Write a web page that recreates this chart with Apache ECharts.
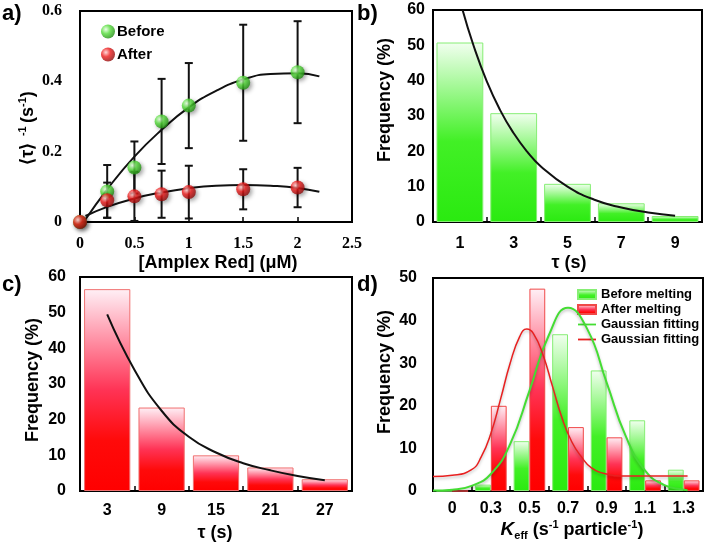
<!DOCTYPE html>
<html>
<head>
<meta charset="utf-8">
<script src="https://cdn.jsdelivr.net/npm/echarts@6/dist/echarts.min.js"></script>
<style>html,body{margin:0;padding:0;background:#fff;}#c{width:709px;height:547px;}</style>
</head>
<body>
<div id="c"></div>
<script>
// ---------- Panel a ----------
const aX = [0, 0.25, 0.5, 0.75, 1, 1.5, 2];
const beforeY = [0, 0.087, 0.155, 0.286, 0.331, 0.396, 0.426];
const beforeErr = [0, 0.075, 0.074, 0.121, 0.121, 0.165, 0.145];
const afterY = [0, 0.062, 0.073, 0.079, 0.085, 0.093, 0.098];
const afterErr = [0, 0.05, 0.07, 0.067, 0.075, 0.057, 0.056];
const fitX = [0.05, 0.25, 0.5, 0.75, 1, 1.25, 1.5, 1.75, 2, 2.2];
const beforeFitY = [0.007, 0.093, 0.186, 0.262, 0.326, 0.373, 0.405, 0.421, 0.423, 0.414];
const afterFitY = [0.017, 0.043, 0.067, 0.084, 0.096, 0.103, 0.105, 0.103, 0.097, 0.086];
// ---------- Panel b ----------
const bCats = ['1', '3', '5', '7', '9'];
const bVals = [50.8, 30.8, 10.8, 5.3, 1.7];
const bFitX = [1.1, 1.5, 2, 2.5, 3, 3.5, 4, 5, 6, 7, 8, 9];
const bFitY = [60, 50.1, 39.8, 31.6, 25.1, 19.9, 15.8, 10, 6.3, 4.1, 2.7, 1.8];
// ---------- Panel c ----------
const cCats = ['3', '9', '15', '21', '27'];
const cVals = [56.6, 23.4, 10, 6.6, 3.3];
const cFitX = [3, 6, 9, 12, 15, 18, 21, 24, 27];
const cFitY = [49.5, 34, 22.5, 15.2, 10.8, 7.8, 5.8, 4.2, 3];
// ---------- Panel d ----------
const dCats = ['0', '0.3', '0.5', '0.7', '0.9', '1.1', '1.3'];
const dBefore = [0, 1.5, 11.7, 36.8, 28.3, 16.6, 5];
const dAfter = [0, 20, 47.5, 15, 12.6, 2.5, 2.5];
// Gaussian fits, x given in bin positions (0 = first bin centre)
const gBeforeX = [-0.5, 0, 0.5, 1, 1.5, 2, 2.5, 3, 3.5, 4, 4.5, 5, 5.5, 6, 6.1];
const gBeforeY = [0.1, 0.3, 1.2, 4, 11, 23.5, 36.5, 43, 38, 25.5, 12.8, 4.8, 1.4, 0.3, 0.2];
const gAfterX = [-0.5, 0, 0.5, 0.75, 1, 1.25, 1.5, 1.75, 1.93, 2.1, 2.35, 2.6, 2.85, 3.1, 3.35, 3.6, 4, 4.5, 5, 6.1];
const gAfterY = [3.4, 3.7, 5, 8, 13.5, 21.5, 30, 36.3, 38, 37, 32, 24.5, 17, 11.5, 8, 5.5, 4, 3.5, 3.5, 3.5];

const SANS = 'Liberation Sans, Arial, sans-serif';
const SERIF = 'Liberation Serif, Times New Roman, serif';
const zip = (xs, ys) => xs.map((x, i) => [x, ys[i]]);

const greenGrad = {type: 'linear', x: 0, y: 0, x2: 0, y2: 1, colorStops: [
  {offset: 0, color: '#f2fff0'}, {offset: 0.55, color: '#42f026'}, {offset: 1, color: '#2aea10'}]};
const redGrad = {type: 'linear', x: 0, y: 0, x2: 0, y2: 1, colorStops: [
  {offset: 0, color: '#fff0f6'}, {offset: 0.5, color: '#ff3355'}, {offset: 0.75, color: '#ff0a0a'}, {offset: 1, color: '#ff0000'}]};
const greenBall = {type: 'radial', x: 0.35, y: 0.35, r: 0.7, colorStops: [
  {offset: 0, color: '#e6ffe0'}, {offset: 0.45, color: '#55dd3a'}, {offset: 1, color: '#1f8a10'}]};
const redBall = {type: 'radial', x: 0.35, y: 0.35, r: 0.7, colorStops: [
  {offset: 0, color: '#ffd0d0'}, {offset: 0.45, color: '#ee1a1a'}, {offset: 1, color: '#8a0a0a'}]};

function errData(ys, es) {
  const out = [];
  aX.forEach((x, i) => { if (es[i] > 0) out.push([x, ys[i] - es[i], ys[i] + es[i]]); });
  return out;
}
function errRender(params, api) {
  const x = api.value(0), lo = api.value(1), hi = api.value(2);
  const p1 = api.coord([x, hi]), p2 = api.coord([x, lo]);
  const w = 4, st = {stroke: '#111', lineWidth: 2};
  return {type: 'group', children: [
    {type: 'line', shape: {x1: p1[0], y1: p1[1], x2: p2[0], y2: p2[1]}, style: st},
    {type: 'line', shape: {x1: p1[0] - w, y1: p1[1], x2: p1[0] + w, y2: p1[1]}, style: st},
    {type: 'line', shape: {x1: p2[0] - w, y1: p2[1], x2: p2[0] + w, y2: p2[1]}, style: st}
  ]};
}

const gridStyle = {show: true, borderColor: '#000', borderWidth: 2, backgroundColor: 'transparent'};
const axLine = {show: true, onZero: false, lineStyle: {color: '#000', width: 2}};
const lblSans = (m) => ({color: '#000', fontFamily: SANS, fontWeight: 'bold', fontSize: 16, margin: m});
const inTick = {show: true, inside: true, length: 5, lineStyle: {color: '#000', width: 1.5}};
const hiddenX = (g, mn, mx) => ({gridIndex: g, type: 'value', min: mn, max: mx, show: false,
  axisLine: {show: false, onZero: false}, axisTick: {show: false}, axisLabel: {show: false}, splitLine: {show: false}});
const lineIcon = 'path://M0,0L20,0L20,2L0,2Z';

const option = {
  animation: false,
  backgroundColor: '#fff',
  grid: [
    Object.assign({left: 80, top: 11, width: 272, height: 211}, gridStyle),
    Object.assign({left: 433, top: 10, width: 269, height: 212}, gridStyle),
    Object.assign({left: 80, top: 277, width: 272, height: 214}, gridStyle),
    Object.assign({left: 433, top: 278, width: 270, height: 213}, gridStyle)
  ],
  xAxis: [
    {gridIndex: 0, type: 'value', min: 0, max: 2.5, interval: 0.5, axisLine: axLine, axisTick: inTick, splitLine: {show: false},
     axisLabel: {color: '#000', fontFamily: SERIF, fontWeight: 'bold', fontSize: 16, margin: 14}},
    {gridIndex: 1, type: 'category', data: bCats, axisLine: axLine, axisTick: inTick, axisLabel: lblSans(14)},
    hiddenX(1, 0, 10),
    {gridIndex: 2, type: 'category', data: cCats, axisLine: axLine, axisTick: inTick, axisLabel: lblSans(12)},
    hiddenX(2, 0, 30),
    {gridIndex: 3, type: 'category', data: dCats, axisLine: axLine, axisTick: inTick, axisLabel: lblSans(10)},
    hiddenX(3, -0.5, 6.5)
  ],
  yAxis: [
    {gridIndex: 0, type: 'value', min: 0, max: 0.6, interval: 0.2, axisLine: axLine, axisTick: {show: false}, splitLine: {show: false},
     axisLabel: {color: '#000', fontFamily: SERIF, fontWeight: 'bold', fontSize: 16, margin: 18}},
    {gridIndex: 1, type: 'value', min: 0, max: 60, interval: 10, axisLine: axLine, axisTick: {show: false}, splitLine: {show: false}, axisLabel: lblSans(8)},
    {gridIndex: 2, type: 'value', min: 0, max: 60, interval: 10, axisLine: axLine, axisTick: {show: false}, splitLine: {show: false}, axisLabel: lblSans(14)},
    {gridIndex: 3, type: 'value', min: 0, max: 50, interval: 10, axisLine: axLine, axisTick: {show: false}, splitLine: {show: false}, axisLabel: lblSans(16)}
  ],
  legend: [
    {data: ['Before', 'After'], orient: 'vertical', left: 96, top: 19, itemWidth: 14, itemHeight: 14, itemGap: 8, icon: 'circle',
     textStyle: {color: '#000', fontFamily: SANS, fontWeight: 'bold', fontSize: 15, padding: [0, 0, 0, -3]}},
    {data: [{name: 'Before melting', icon: 'rect'}, {name: 'After melting', icon: 'rect'},
            {name: 'Gaussian fitting', icon: lineIcon}, {name: 'Gaussian fitting ', icon: lineIcon}],
     orient: 'vertical', left: 572, top: 283, itemWidth: 18, itemHeight: 9, itemGap: 2,
     textStyle: {color: '#000', fontFamily: SANS, fontWeight: 'bold', fontSize: 13}}
  ],
  series: [
    // panel a
    {type: 'custom', xAxisIndex: 0, yAxisIndex: 0, renderItem: errRender, data: errData(beforeY, beforeErr), encode: {x: 0, y: [1, 2]}, z: 2},
    {type: 'custom', xAxisIndex: 0, yAxisIndex: 0, renderItem: errRender, data: errData(afterY, afterErr), encode: {x: 0, y: [1, 2]}, z: 2},
    {type: 'line', xAxisIndex: 0, yAxisIndex: 0, data: zip(fitX, beforeFitY), smooth: 0.5, symbol: 'none', lineStyle: {color: '#111', width: 2}, z: 3},
    {type: 'line', xAxisIndex: 0, yAxisIndex: 0, data: zip(fitX, afterFitY), smooth: 0.5, symbol: 'none', lineStyle: {color: '#111', width: 2}, z: 3},
    {name: 'Before', type: 'scatter', xAxisIndex: 0, yAxisIndex: 0, data: zip(aX, beforeY), symbolSize: 14,
     itemStyle: {color: greenBall, shadowBlur: 4, shadowColor: 'rgba(0,0,0,0.45)', shadowOffsetX: 2, shadowOffsetY: 2}, z: 5},
    {name: 'After', type: 'scatter', xAxisIndex: 0, yAxisIndex: 0, data: zip(aX, afterY), symbolSize: 14,
     itemStyle: {color: redBall, shadowBlur: 4, shadowColor: 'rgba(0,0,0,0.45)', shadowOffsetX: 2, shadowOffsetY: 2}, z: 5},
    // panel b
    {type: 'bar', xAxisIndex: 1, yAxisIndex: 1, data: bVals, barCategoryGap: '13%',
     itemStyle: {color: greenGrad, borderColor: '#86ee74', borderWidth: 1}},
    {type: 'line', xAxisIndex: 2, yAxisIndex: 1, data: zip(bFitX, bFitY), smooth: 0.5, symbol: 'none', lineStyle: {color: '#111', width: 2}, z: 4},
    // panel c
    {type: 'bar', xAxisIndex: 3, yAxisIndex: 2, data: cVals, barCategoryGap: '15%',
     itemStyle: {color: redGrad, borderColor: '#f07070', borderWidth: 1}},
    {type: 'line', xAxisIndex: 4, yAxisIndex: 2, data: zip(cFitX, cFitY), smooth: 0.5, symbol: 'none', lineStyle: {color: '#111', width: 2}, z: 4},
    // panel d
    {name: 'Before melting', type: 'bar', xAxisIndex: 5, yAxisIndex: 3, data: dBefore, barGap: '0%', barCategoryGap: '18%',
     itemStyle: {color: greenGrad, borderColor: '#86ee74', borderWidth: 1}},
    {name: 'After melting', type: 'bar', xAxisIndex: 5, yAxisIndex: 3, data: dAfter, barGap: '0%', barCategoryGap: '18%',
     itemStyle: {color: redGrad, borderColor: '#f04848', borderWidth: 1}},
    {name: 'Gaussian fitting', type: 'line', xAxisIndex: 6, yAxisIndex: 3, data: zip(gBeforeX, gBeforeY), smooth: 0.5, symbol: 'none',
     itemStyle: {color: '#44dd33'},
     lineStyle: {color: '#44dd33', width: 2, shadowBlur: 3, shadowColor: 'rgba(0,0,0,0.25)', shadowOffsetY: 2}, z: 4},
    {name: 'Gaussian fitting ', type: 'line', xAxisIndex: 6, yAxisIndex: 3, data: zip(gAfterX, gAfterY), smooth: 0.5, symbol: 'none',
     itemStyle: {color: '#e82020'},
     lineStyle: {color: '#e82020', width: 1.5, shadowBlur: 3, shadowColor: 'rgba(0,0,0,0.25)', shadowOffsetY: 2}, z: 4}
  ],
  graphic: [
    {type: 'text', x: 2, y: 14, style: {text: 'a)', font: 'bold 22px ' + SANS, fill: '#000', verticalAlign: 'middle'}},
    {type: 'text', x: 357, y: 14, style: {text: 'b)', font: 'bold 22px ' + SANS, fill: '#000', verticalAlign: 'middle'}},
    {type: 'text', x: 2, y: 285, style: {text: 'c)', font: 'bold 22px ' + SANS, fill: '#000', verticalAlign: 'middle'}},
    {type: 'text', x: 357, y: 285, style: {text: 'd)', font: 'bold 22px ' + SANS, fill: '#000', verticalAlign: 'middle'}},
    // axis names
    {type: 'text', x: 218, y: 263, style: {text: '[Amplex Red] (μM)', font: 'bold 18px ' + SANS, fill: '#000', align: 'center', verticalAlign: 'middle'}},
    {type: 'text', x: 28, y: 128, rotation: Math.PI / 2,
     style: {text: '{a|⟨τ⟩}  {s|-1} {a|(s}{s|-1}{a|)}', align: 'center', verticalAlign: 'middle',
       rich: {a: {fontSize: 18, fontWeight: 'bold', fontFamily: SANS, lineHeight: 22, fill: '#000'},
              s: {fontSize: 11, fontWeight: 'bold', fontFamily: SANS, lineHeight: 12, verticalAlign: 'top', fill: '#000'}}}},
    {type: 'text', x: 385, y: 100, rotation: Math.PI / 2, style: {text: 'Frequency (%)', font: 'bold 18px ' + SANS, fill: '#000', align: 'center', verticalAlign: 'middle'}},
    {type: 'text', x: 569, y: 263, style: {text: 'τ (s)', font: 'bold 18px ' + SANS, fill: '#000', align: 'center', verticalAlign: 'middle'}},
    {type: 'text', x: 33, y: 380, rotation: Math.PI / 2, style: {text: 'Frequency (%)', font: 'bold 18px ' + SANS, fill: '#000', align: 'center', verticalAlign: 'middle'}},
    {type: 'text', x: 215, y: 533, style: {text: 'τ (s)', font: 'bold 18px ' + SANS, fill: '#000', align: 'center', verticalAlign: 'middle'}},
    {type: 'text', x: 385, y: 372, rotation: Math.PI / 2, style: {text: 'Frequency (%)', font: 'bold 18px ' + SANS, fill: '#000', align: 'center', verticalAlign: 'middle'}},
    {type: 'text', x: 572, y: 530,
     style: {text: '{k|K}{b|eff}{a| (s}{s|-1}{a| particle}{s|-1}{a|)}', align: 'center', verticalAlign: 'middle',
       rich: {a: {fontSize: 18, fontWeight: 'bold', fontFamily: SANS, lineHeight: 22, fill: '#000'},
              k: {fontSize: 19, fontWeight: 'bold', fontStyle: 'italic', fontFamily: SANS, lineHeight: 22, fill: '#000'},
              b: {fontSize: 11, fontWeight: 'bold', fontFamily: SANS, lineHeight: 12, verticalAlign: 'bottom', fill: '#000'},
              s: {fontSize: 11, fontWeight: 'bold', fontFamily: SANS, lineHeight: 12, verticalAlign: 'top', fill: '#000'}}}}
  ]
};
const chart = echarts.init(document.getElementById('c'), null, {renderer: 'canvas'});
chart.setOption(option);
</script>
</body>
</html>
